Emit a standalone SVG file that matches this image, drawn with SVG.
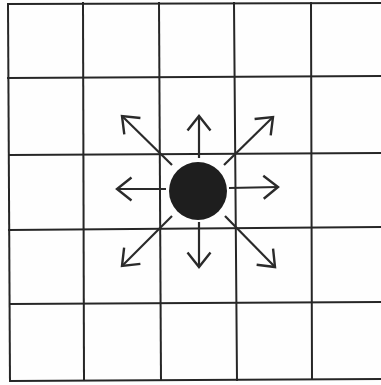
<svg xmlns="http://www.w3.org/2000/svg" width="381" height="385" viewBox="0 0 381 385">
<style>
.g{stroke:#262626;stroke-width:2;fill:none;stroke-linecap:square}
.a{stroke:#2a2a2a;stroke-width:2.2;fill:none;marker-end:url(#h)}
</style>
<defs>
<marker id="h" markerUnits="userSpaceOnUse" markerWidth="40" markerHeight="40" viewBox="-20 -20 40 40" refX="0" refY="0" orient="auto">
<path d="M-14.5,-11.5 L0,0 L-14.5,11.5" fill="none" stroke="#2a2a2a" stroke-width="2.4" stroke-linejoin="miter"/>
</marker>
</defs>
<rect width="381" height="385" fill="#fefefe"/>
<g id="grid" class="g">
<line x1="8" y1="4" x2="381" y2="3"/>
<line x1="8" y1="78" x2="381" y2="76"/>
<line x1="9" y1="155" x2="381" y2="153"/>
<line x1="9" y1="230" x2="381" y2="227"/>
<line x1="10" y1="304" x2="381" y2="302"/>
<line x1="10" y1="381" x2="381" y2="379"/>
<line x1="8" y1="4" x2="10" y2="381"/>
<line x1="83" y1="3" x2="84" y2="380"/>
<line x1="159" y1="3" x2="161" y2="380"/>
<line x1="234" y1="3" x2="237" y2="380"/>
<line x1="311" y1="3" x2="312" y2="379"/>
</g>
<g id="connectors">
<line class="a" x1="199" y1="158" x2="199" y2="116"/>
<line class="a" x1="199" y1="222" x2="199" y2="267"/>
<line class="a" x1="166" y1="189" x2="117" y2="189"/>
<line class="a" x1="229" y1="188" x2="278" y2="187"/>
<line class="a" x1="172" y1="165" x2="122" y2="116"/>
<line class="a" x1="224" y1="165" x2="273" y2="117"/>
<line class="a" x1="172" y1="216" x2="122" y2="266"/>
<line class="a" x1="225" y1="216" x2="275" y2="267"/>
</g>
<g id="disc">
<circle cx="198" cy="191" r="29" fill="#1e1e1e"/>
</g>
</svg>
